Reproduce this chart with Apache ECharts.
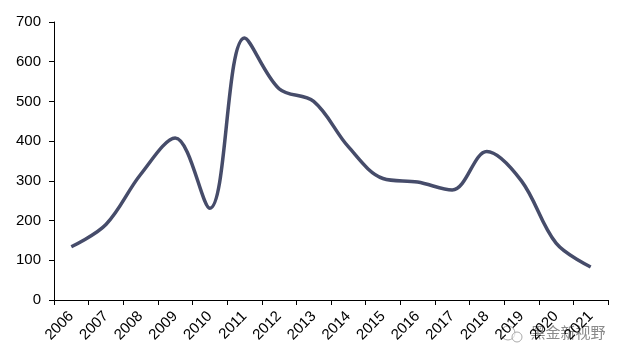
<!DOCTYPE html>
<html><head><meta charset="utf-8">
<script src="https://cdn.jsdelivr.net/npm/echarts@6/dist/echarts.min.js"></script>
<style>html,body{margin:0;padding:0;background:#fff}#c{width:624px;height:359px}</style>
</head><body><div id="c"></div>
<script>
const categories = ['2006','2007','2008','2009','2010','2011','2012','2013','2014','2015','2016','2017','2018','2019','2020','2021'];
const values = [134, 190, 316, 408, 231, 660, 532, 500, 386, 306, 297, 277, 374, 300, 143, 83];
const yTicks = [0, 100, 200, 300, 400, 500, 600, 700];

const chart = echarts.init(document.getElementById('c'));
chart.setOption({
  animation: false,
  grid: {left: 54, right: 16, top: 22, bottom: 59},
  xAxis: {
    type: 'category', data: categories, boundaryGap: true,
    axisLine: {lineStyle: {color: '#000', width: 1}},
    axisTick: {show: true, length: 5, lineStyle: {color: '#000'}},
    axisLabel: {rotate: 45, color: '#000', fontFamily: 'Liberation Sans', fontSize: 15, margin: 14, interval: 0}
  },
  yAxis: {
    type: 'value', min: yTicks[0], max: yTicks[yTicks.length-1], interval: 100,
    axisLine: {show: true, lineStyle: {color: '#000', width: 1}},
    axisTick: {show: true, length: 5, lineStyle: {color: '#000'}},
    splitLine: {show: false},
    axisLabel: {color: '#000', fontFamily: 'Liberation Sans', fontSize: 15, margin: 13}
  },
  series: [{
    type: 'line', data: values, smooth: 0.35, symbol: 'none',
    lineStyle: {color: '#464c6a', width: 3.5}
  }],
  graphic: [
    {type: 'circle', shape: {cx: 508, cy: 333, r: 7}, style: {fill: 'rgba(255,255,255,0.6)', stroke: '#aaa', lineWidth: 1}},
    {type: 'circle', shape: {cx: 517, cy: 337, r: 5}, style: {fill: 'rgba(255,255,255,0.6)', stroke: '#aaa', lineWidth: 1}},
    {type: 'text', left: 530, top: 324, style: {text: '黑金新视野', fill: '#8a8a8a', stroke: '#fff', lineWidth: 1, font: '15px "Noto Sans CJK SC"'}}
  ]
});
</script></body></html>
